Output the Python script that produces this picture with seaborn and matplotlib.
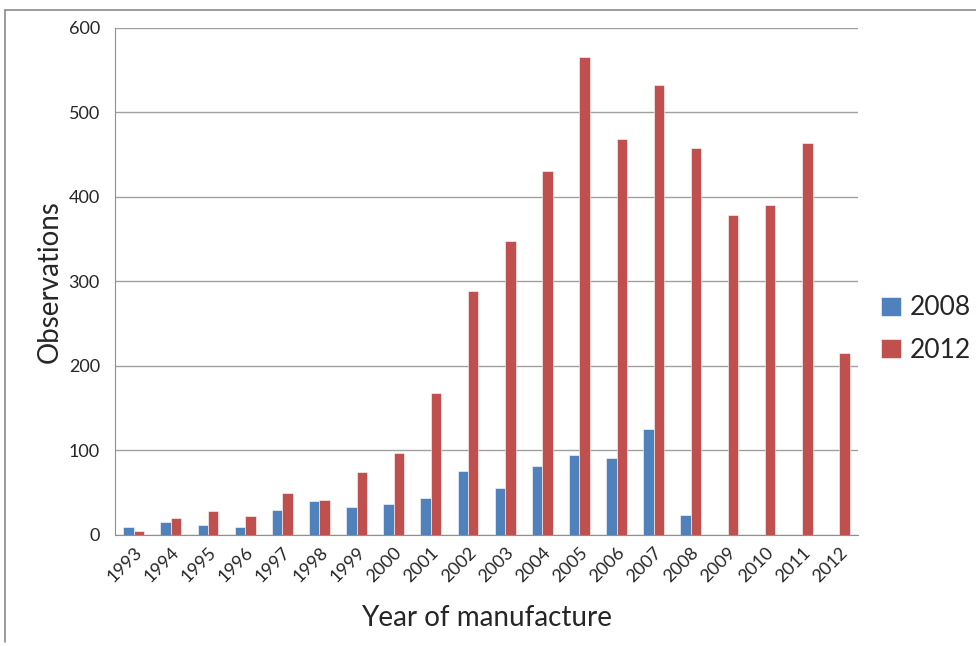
import pandas as pd
import matplotlib.pyplot as plt
import seaborn as sns
from matplotlib.lines import Line2D

years = [str(y) for y in range(1993, 2013)]
obs_2008 = [9, 15, 12, 9, 30, 40, 33, 37, 44, 76, 56, 81, 95, 91, 125, 23,
            None, None, None, None]
obs_2012 = [5, 20, 28, 22, 49, 41, 74, 97, 168, 288, 348, 431, 565, 468, 532, 458,
            379, 390, 464, 215]

# long form table for seaborn
rows = []
for y, v in zip(years, obs_2008):
    if v is not None:
        rows.append({'Year': y, 'Survey': '2008', 'Observations': v})
for y, v in zip(years, obs_2012):
    rows.append({'Year': y, 'Survey': '2012', 'Observations': v})
df = pd.DataFrame(rows)

sns.set_style('white')
plt.rcParams['font.family'] = ['Lato', 'DejaVu Sans']

fig = plt.figure(figsize=(9.76, 6.46), dpi=100)
ax = fig.add_axes([0.118, 0.172, 0.761, 0.785])

sns.barplot(data=df, x='Year', y='Observations', hue='Survey', order=years,
            hue_order=['2008', '2012'], palette=['#4F81BD', '#C0504D'],
            saturation=1, width=0.56, edgecolor='white', linewidth=0.4, ax=ax)

ax.set_ylim(0, 600)
ax.set_yticks(range(0, 601, 100))
ax.set_xlim(-0.5, len(years) - 0.5)
ax.yaxis.grid(True, color='#a0a0a0', linewidth=1)
ax.set_axisbelow(True)
for s in ['top', 'right']:
    ax.spines[s].set_visible(False)
for s in ['left', 'bottom']:
    ax.spines[s].set_color('#909090')

# ticks between categories, labels at centres
ax.set_xticks([i - 0.5 for i in range(len(years) + 1)], minor=True)
ax.tick_params(axis='x', which='minor', length=5, color='#909090', direction='out')
ax.tick_params(axis='x', which='major', length=0, pad=7)
ax.tick_params(axis='y', length=5, color='#909090', direction='out', labelsize=13, pad=6)
ax.set_xticks(range(len(years)))
ax.set_xticklabels(years, rotation=45, ha='right', rotation_mode='anchor', fontsize=13)

ax.set_xlabel('Year of manufacture', fontsize=20, labelpad=14)
ax.set_ylabel('Observations', fontsize=20, labelpad=4)

ax.legend(loc='center left', bbox_to_anchor=(881 / 976, 1 - 329 / 646),
          bbox_transform=fig.transFigure, frameon=False, borderaxespad=0, borderpad=0,
          fontsize=19, handlelength=0.75, handleheight=0.75, handletextpad=0.35,
          labelspacing=0.65, title=None)

# outer chart border
fig.add_artist(Line2D([5 / 976, 1.0], [1 - 10 / 646, 1 - 10 / 646], color='#8a8a8a', linewidth=1.2))
fig.add_artist(Line2D([5 / 976, 5 / 976], [1 - 10 / 646, 1 - 642 / 646], color='#8a8a8a', linewidth=1.2))

fig.savefig('out.png', dpi=100)
